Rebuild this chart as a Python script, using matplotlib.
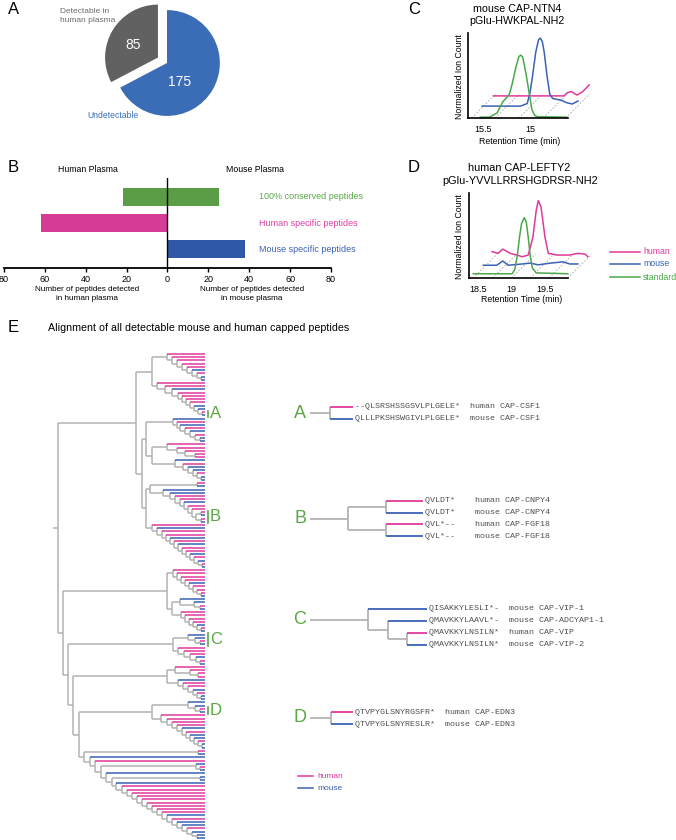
import re
import matplotlib
matplotlib.use("Agg")
import matplotlib.pyplot as plt
from matplotlib.collections import LineCollection

plt.rcParams['font.family'] = ['Liberation Sans', 'DejaVu Sans']

W, H = 676, 840

PINK = "#e0399c"
BLUE = "#3a62b5"
GREEN = "#5aa646"
LINE_GREY = "#b3b3b3"
SEQ_GREY = "#505050"

# ---------------- A: pie
pie_values = [85, 175]
pie_colors = ["#616161", "#3b6db6"]

# ---------------- B: back to back bars
bar_categories = ["100% conserved peptides", "Human specific peptides", "Mouse specific peptides"]
human_counts = [22, 62, 0]
mouse_counts = [25, 0, 38]
bar_colors = ["#5b9d46", "#d63b95", "#2f58a9"]
bar_text_colors = ["#5aa646", "#e040a0", "#3a62b5"]
bar_ticks = [-80, -60, -40, -20, 0, 20, 40, 60, 80]

# ---------------- C: mouse CAP-NTN4 traces (retention time, normalized count)
c_std_rt = [15.53, 15.43, 15.35, 15.29, 15.25, 15.22, 15.19, 15.15, 15.12, 15.10, 15.08, 15.06, 15.04, 15.01, 14.98, 14.95, 14.92, 14.61]
c_std_int = [0.01, 0.01, 0.06, 0.19, 0.24, 0.28, 0.40, 0.60, 0.72, 0.74, 0.72, 0.62, 0.50, 0.30, 0.10, 0.03, 0.015, 0.01]
c_mouse_rt = [15.51, 15.10, 15.03, 15.00, 14.97, 14.94, 14.91, 14.89, 14.87, 14.85, 14.82, 14.79, 14.76, 14.72, 14.67, 14.61, 14.55, 14.49]
c_mouse_int = [0.14, 0.14, 0.17, 0.30, 0.52, 0.77, 0.92, 0.94, 0.90, 0.78, 0.50, 0.28, 0.23, 0.22, 0.21, 0.18, 0.165, 0.20]
c_human_rt = [15.39, 14.64, 14.60, 14.56, 14.50, 14.44, 14.37]
c_human_int = [0.26, 0.26, 0.30, 0.31, 0.27, 0.31, 0.39]
c_ticks = [15.5, 15.0]
c_grid = [15.62, 15.37, 15.12, 14.86, 14.62]

# ---------------- D: human CAP-LEFTY2 traces
d_std_rt = [18.43, 19.01, 19.05, 19.09, 19.12, 19.15, 19.19, 19.22, 19.25, 19.28, 19.31, 19.37, 19.84]
d_std_int = [0.05, 0.05, 0.10, 0.28, 0.48, 0.64, 0.71, 0.66, 0.48, 0.26, 0.12, 0.06, 0.05]
d_mouse_rt = [18.58, 18.78, 18.87, 18.95, 19.16, 19.28, 19.40, 19.58, 19.77, 19.87, 19.99]
d_mouse_int = [0.15, 0.15, 0.20, 0.15, 0.165, 0.175, 0.155, 0.175, 0.19, 0.165, 0.165]
d_human_rt = [18.71, 18.80, 18.87, 18.98, 19.08, 19.16, 19.25, 19.32, 19.37, 19.40, 19.44, 19.50, 19.55, 19.68, 19.87, 19.99, 20.10, 20.14]
d_human_int = [0.31, 0.29, 0.34, 0.29, 0.27, 0.25, 0.27, 0.48, 0.80, 0.91, 0.84, 0.48, 0.29, 0.27, 0.27, 0.29, 0.28, 0.25]
d_ticks = [18.5, 19.0, 19.5]
d_grid = [18.43, 18.72, 19.0, 19.28, 19.56, 19.84]

# ---------------- E: tree of detectable peptides (h = human, m = mouse)
# internal nodes carry their horizontal position, ":X" marks a highlighted clade
T1a = "(h,(h,(h,(h,(h,(m,(h,(m,m)201)197)192)187)182)177)172)167"
T1b = "(h,(h,(m,(h,(h,(h,(h,(m,(m,(h,m)202:A)198)194)190)186)182)178)172)165)157"
W1 = "(m,(h,(m,(h,(m,(h,(m,m)200)195)190)185)180)177)173"
W2 = "((h,(h,(h,(h,h)195)185)177)167,(m,(h,(m,(m,(h,(m,m)201)197)193)188)183)175)152"
X1 = "((h,m)197,(m,(m,(h,(h,(m,(h,(h,((h,m)201,(h,m)201)196:B)192)188)184)180)175)170)163)150"
X2 = "(h,(m,(h,(h,(m,(h,(m,(h,(h,(m,(h,(m,(h,m)202)198)194)190)186)182)178)174)170)166)162)157)152"
L1a = "(h,(h,(h,(h,(m,(h,(h,(h,m)201)197)193)189)185)181)177)173"
L1b = "((m,(m,(h,m)200)194)180,(h,(h,(h,(h,(m,(h,m)201)197)193)189)185)181)172"
Cc = "((m,(m,(h,m)200)195)188:C,(h,(h,(h,(m,(h,m)200)196)190)184)178)173"
N1 = "((h,(h,(h,h)198)190)175,(m,(h,(h,(m,(h,(m,m)201)197)193)188)183)178)167"
Dc = "((m,(m,(h,m)200:D)195)188,(h,(h,(h,(h,(m,(h,(m,(m,(h,(m,m)202)198)194)190)186)182)177)172)167)161)152"
Bot = ("((h,m)198,(m,(h,((m,(h,m)200)196,(m,((m,m)200,(m,"
       "(h,(h,(h,(h,(h,(h,(h,(h,(h,"
       "(m,(h,(m,(m,(h,(m,(m,m)197)192)187)182)177)172)167"
       ")162)157)152)147)142)137)132)127)122"
       ")116)112)106)101)95)90)84")
upper = f"(({T1a},{T1b})152,(({W1},{W2})146,({X1},{X2})146)142)136"
lower = f"(({L1a},{L1b})167,({Cc},({N1},({Dc},{Bot})79)73)68)63"
main_tree = f"({upper},{lower})58"

inset_letters = ["A", "B", "C", "D"]
inset_trees = ["(h,m)330", "((h,m)386,(h,m)386)348", "(m,(m,(h,m)407)388)368", "(h,m)331"]
inset_rows = [
    ["--QLSRSHSSGSVLPLGELE*  human CAP-CSF1", "QLLLPKSHSWGIVLPLGELE*  mouse CAP-CSF1"],
    ["QVLDT*    human CAP-CNPY4", "QVLDT*    mouse CAP-CNPY4",
     "QVL*--    human CAP-FGF18", "QVL*--    mouse CAP-FGF18"],
    ["QISAKKYLESLI*-  mouse CAP-VIP-1", "QMAVKKYLAAVL*-  mouse CAP-ADCYAP1-1",
     "QMAVKKYLNSILN*  human CAP-VIP", "QMAVKKYLNSILN*  mouse CAP-VIP-2"],
    ["QTVPYGLSNYRGSFR*  human CAP-EDN3", "QTVPYGLSNYRESLR*  mouse CAP-EDN3"],
]
inset_row_y = [[407, 419], [501, 513, 524, 536], [609, 621, 633, 645], [712, 724]]
inset_tip_x = [353, 423, 427, 353]


def parse(s):
    pos = 0

    def node():
        nonlocal pos
        if s[pos] == '(':
            pos += 1
            kids = [node()]
            while s[pos] == ',':
                pos += 1
                kids.append(node())
            pos += 1
            m = re.match(r'(\d+(?:\.\d+)?)(?::([A-Z]))?', s[pos:])
            pos += m.end()
            return {'x': float(m.group(1)), 'kids': kids, 'mark': m.group(2)}
        c = s[pos]
        pos += 1
        return {'leaf': c}

    n = node()
    assert pos == len(s)
    return n


def count_leaves(n):
    return 1 if 'leaf' in n else sum(count_leaves(k) for k in n['kids'])


def layout(n, ys, tip_x):
    if 'leaf' in n:
        n['y'] = next(ys)
        n['x'] = tip_x
        n['first'] = n['last'] = n['y']
        return
    for k in n['kids']:
        layout(k, ys, tip_x)
    n['y'] = (n['kids'][0]['y'] + n['kids'][-1]['y']) / 2
    n['first'] = n['kids'][0]['first']
    n['last'] = n['kids'][-1]['last']


def collect(n, segs, marks):
    if 'leaf' in n:
        return
    segs['g'].append([(n['x'], n['kids'][0]['y']), (n['x'], n['kids'][-1]['y'])])
    for k in n['kids']:
        key = k.get('leaf', 'g')
        segs[key].append([(n['x'], k['y']), (k['x'], k['y'])])
        collect(k, segs, marks)
    if n.get('mark'):
        marks.append((n['mark'], n['first'], n['last']))


def draw_tree(ax, tree_str, leaf_y, tip_x, stub_x, lw):
    t = parse(tree_str)
    layout(t, iter(leaf_y), tip_x)
    segs = {'g': [], 'h': [], 'm': []}
    marks = []
    collect(t, segs, marks)
    segs['g'].append([(stub_x, t['y']), (t['x'], t['y'])])
    ax.add_collection(LineCollection(segs['g'], colors=LINE_GREY, linewidths=lw, capstyle='butt'))
    ax.add_collection(LineCollection(segs['h'], colors=PINK, linewidths=lw, capstyle='butt'))
    ax.add_collection(LineCollection(segs['m'], colors=BLUE, linewidths=lw, capstyle='butt'))
    return t, marks


fig = plt.figure(figsize=(W / 100, H / 100), dpi=100)


def px_axes(l, t, r, b):
    a = fig.add_axes([l / W, 1 - b / H, (r - l) / W, (b - t) / H])
    a.patch.set_visible(False)
    return a


canvas = px_axes(0, 0, W, H)
canvas.set_xlim(0, W)
canvas.set_ylim(H, 0)
canvas.axis('off')

# panel letters
for letter, (lx, ly) in zip("ABCDE", [(8, 9), (8, 168), (408, 9), (408, 168), (8, 327)]):
    canvas.text(lx, ly, letter, fontsize=12, va='center', ha='left')

# ---------------- A
ax_a = px_axes(93, -0.5, 241, 126.5)
ax_a.pie(pie_values, colors=pie_colors, startangle=90, explode=[0.2, 0], radius=1)
ax_a.set_xlim(-1.4, 1.4)
ax_a.set_ylim(-1.2, 1.2)
ax_a.set_aspect('auto')
ax_a.text(-0.64, 0.34, str(pie_values[0]), color='white', fontsize=10, ha='center', va='center')
ax_a.text(0.245, -0.36, str(pie_values[1]), color='white', fontsize=10, ha='center', va='center')
canvas.text(60, 16, "Detectable in\nhuman plasma", color="#6b6b6b", fontsize=6.0,
            va='center', ha='left', linespacing=1.25)
canvas.text(87, 116, "Undetectable", color="#3b6db6", fontsize=6.2, va='center', ha='left')

# ---------------- B
ax_b = px_axes(4, 178, 331, 268)
ypos = [2, 1, 0]
ax_b.barh(ypos, [-v for v in human_counts], height=0.7, color=bar_colors)
ax_b.barh(ypos, mouse_counts, height=0.7, color=bar_colors)
ax_b.set_xlim(-80, 80)
ax_b.set_ylim(-0.73, 2.73)
ax_b.axvline(0, color='black', lw=1.0)
for s in ['left', 'right', 'top']:
    ax_b.spines[s].set_visible(False)
ax_b.spines['bottom'].set_linewidth(1.3)
ax_b.set_xticks(bar_ticks)
ax_b.set_xticklabels([str(abs(t)) for t in bar_ticks])
ax_b.tick_params(axis='x', length=3, width=1, pad=2, labelsize=6.5)
ax_b.set_yticks([])
for y, cat, col in zip(ypos, bar_categories, bar_text_colors):
    ax_b.text(45, y, cat, color=col, fontsize=6.5, va='center', clip_on=False)
canvas.text(88, 169, "Human Plasma", fontsize=6.3, ha='center', va='center')
canvas.text(255, 169, "Mouse Plasma", fontsize=6.3, ha='center', va='center')
canvas.text(87, 294, "Number of peptides detected\nin human plasma", fontsize=5.9,
            ha='center', va='center', linespacing=1.3)
canvas.text(252, 294, "Number of peptides detected\nin mouse plasma", fontsize=5.9,
            ha='center', va='center', linespacing=1.3)


# ---------------- C and D
def chrom_axes(ax, ticks, tick_labels, bounds):
    for s in ['right', 'top']:
        ax.spines[s].set_visible(False)
    for s in ['left', 'bottom']:
        ax.spines[s].set_linewidth(1.2)
    ax.spines['bottom'].set_bounds(*bounds)
    ax.set_xticks(ticks)
    ax.set_xticklabels(tick_labels)
    ax.set_yticks([])
    ax.set_ylim(0, 1)
    ax.tick_params(axis='x', length=0, pad=5, labelsize=6.5)


ax_c = px_axes(468, 33, 595, 118)
ax_c.set_xlim(15.66, 15.66 - 127 / 94)
chrom_axes(ax_c, c_ticks, ["15.5", "15"], (14.6, 15.66))
for rt in c_grid:
    ax_c.plot([rt, rt - 24 / 94], [0, 24 / 85], color="#a8a8a8", lw=0.6, dashes=(2, 2))
ax_c.plot(c_human_rt, c_human_int, color=PINK, lw=1.1)
ax_c.plot(c_mouse_rt, c_mouse_int, color=BLUE, lw=1.1)
ax_c.plot(c_std_rt, c_std_int, color="#4aa84a", lw=1.1)
canvas.text(517, 8.5, "mouse CAP-NTN4", fontsize=7.7, ha='center', va='center')
canvas.text(517, 20.5, "pGlu-HWKPAL-NH2", fontsize=7.7, ha='center', va='center')
canvas.text(520, 141, "Retention Time (min)", fontsize=6.3, ha='center', va='center')
canvas.text(459, 77, "Normalized Ion Count", fontsize=6.3, ha='center', va='center', rotation=90)

ax_d = px_axes(469, 193, 600, 278)
ax_d.set_xlim(18.366, 18.366 + 131 / 67)
chrom_axes(ax_d, d_ticks, ["18.5", "19", "19.5"], (18.366, 19.84))
for rt in d_grid:
    ax_d.plot([rt, rt + 24 / 67], [0, 24 / 85], color="#a8a8a8", lw=0.6, dashes=(2, 2))
ax_d.plot(d_human_rt, d_human_int, color=PINK, lw=1.1)
ax_d.plot(d_mouse_rt, d_mouse_int, color=BLUE, lw=1.1)
ax_d.plot(d_std_rt, d_std_int, color="#4aa84a", lw=1.1)
canvas.text(519, 168, "human CAP-LEFTY2", fontsize=7.8, ha='center', va='center')
canvas.text(520, 180.5, "pGlu-YVVLLRRSHGDRSR-NH2", fontsize=7.8, ha='center', va='center')
canvas.text(522, 300, "Retention Time (min)", fontsize=6.3, ha='center', va='center')
canvas.text(460, 237, "Normalized Ion Count", fontsize=6.3, ha='center', va='center', rotation=90)
for ly, name, col in [(252, "human", PINK), (264, "mouse", BLUE), (277, "standard", "#4aa84a")]:
    canvas.plot([610, 640], [ly, ly], color=col, lw=1.1)
    canvas.text(643, ly, name, color=col, fontsize=6.3, va='center', ha='left')

# ---------------- E
canvas.text(48, 328, "Alignment of all detectable mouse and human capped peptides",
            fontsize=7.7, va='center', ha='left')

n_leaves = count_leaves(parse(main_tree))
step = (838 - 354) / (n_leaves - 1)
leaf_y = [354 + i * step for i in range(n_leaves)]
tree, marks = draw_tree(canvas, main_tree, leaf_y, 205, 53, 1.1)
for letter, y0, y1 in marks:
    canvas.plot([207.5, 207.5], [y0 - 1.5, y1 + 1.5], color=GREEN, lw=1.2)
    canvas.text(210, (y0 + y1) / 2, letter, color=GREEN, fontsize=12, va='center', ha='left')

for letter, t_str, rows, ys, tip in zip(inset_letters, inset_trees, inset_rows, inset_row_y, inset_tip_x):
    t, _ = draw_tree(canvas, t_str, ys, tip, 310, 1.3)
    canvas.text(300, t['y'], letter, color=GREEN, fontsize=13, va='center', ha='center')
    for y, row in zip(ys, rows):
        canvas.text(tip + 2, y, row, family='Liberation Mono', fontsize=6, color=SEQ_GREY,
                    va='center', ha='left')

canvas.plot([298, 313], [776, 776], color=PINK, lw=1.1)
canvas.text(317, 776, "human", color=PINK, fontsize=6, va='center', ha='left')
canvas.plot([298, 313], [788, 788], color=BLUE, lw=1.1)
canvas.text(317, 788, "mouse", color=BLUE, fontsize=6, va='center', ha='left')

fig.savefig("out.png", dpi=100)
